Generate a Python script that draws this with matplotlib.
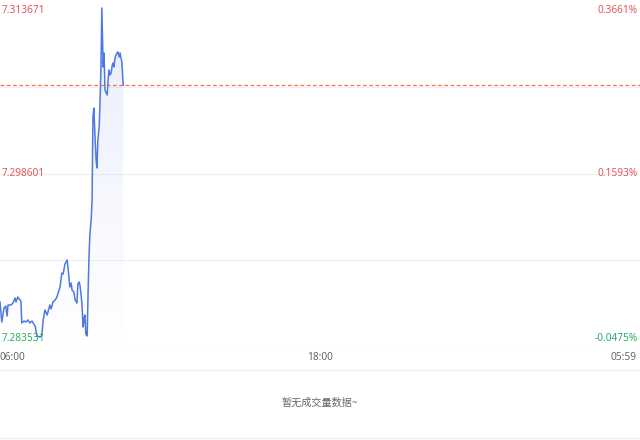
import numpy as np
import matplotlib
matplotlib.use('Agg')
from matplotlib import pyplot as plt
from matplotlib.patches import Polygon

plt.rcParams['font.family'] = ['Noto Sans', 'Noto Sans CJK SC', 'DejaVu Sans']

# minutes since 06:00 and price
minutes = [0, 4, 9, 13, 16, 18, 25, 29, 34, 36, 40, 45, 47, 49, 54, 58, 63, 67,
           72, 76, 79, 83, 90, 94, 97, 101, 106, 112, 115, 119, 124, 128, 135,
           139, 142, 146, 151, 153, 157, 160, 162, 166, 169, 173, 175, 178, 180,
           184, 187, 189, 191, 193, 196, 198, 200, 202, 205, 207, 209, 211, 214,
           216, 218, 220, 223, 225, 227, 229, 232, 234, 236, 238, 241, 243, 245,
           247, 250, 252, 254, 256, 259, 261, 263, 265, 268, 270, 272, 274, 277]
prices = [7.287440, 7.285702, 7.286918, 7.287092, 7.286224, 7.287179, 7.287179,
          7.287353, 7.287787, 7.287440, 7.287874, 7.287613, 7.287526, 7.285616,
          7.285789, 7.285702, 7.285876, 7.285616, 7.285789, 7.285529, 7.285355,
          7.284486, 7.284400, 7.284486, 7.285876, 7.286745, 7.286310, 7.287179,
          7.286832, 7.287440, 7.287613, 7.287874, 7.288742, 7.289958, 7.289872,
          7.290740, 7.291088, 7.290393, 7.288742, 7.289090, 7.288482, 7.288308,
          7.287613, 7.287353, 7.289003, 7.289177, 7.288829, 7.287440, 7.285268,
          7.286050, 7.286310, 7.284660, 7.284486, 7.288221, 7.291261, 7.293259,
          7.294562, 7.296299, 7.303508, 7.304290, 7.301511, 7.299774, 7.299079,
          7.301511, 7.302640, 7.304985, 7.307765, 7.312976, 7.307851, 7.309067,
          7.305854, 7.305680, 7.305419, 7.306722, 7.307591, 7.307157, 7.307330,
          7.307938, 7.308199, 7.307851, 7.308720, 7.308894, 7.309067, 7.309154,
          7.308720, 7.309067, 7.308633, 7.308286, 7.306288]

y_top = 7.313671
y_bottom = 7.283531
y_mid = 7.298601
ref_line = 7.306288
pct_labels = ['0.3661%', '0.1593%', '-0.0475%']
time_labels = ['06:00', '18:00', '05:59']
total_minutes = 1439
no_volume_text = '暂无成交量数据~'

RED = '#e0575c'
GREEN = '#2ead6b'
GREY = '#666666'
GRID = '#f0f0f0'
LINE = '#4f78e6'

fig = plt.figure(figsize=(6.4, 4.4), dpi=100)
ax = fig.add_axes([0, 1 - 347 / 440, 1, 347 / 440])
ax.axis('off')

for v in np.linspace(y_bottom, y_top, 5)[:-1]:
    ax.axhline(v, color=GRID, lw=0.8, zorder=0)

x = np.array(minutes)
y = np.array(prices)

# gradient fill under the line, strongest at the top
verts = np.vstack([[x[0], y_bottom], np.column_stack([x, y]), [x[-1], y_bottom]])
poly = Polygon(verts, closed=True, facecolor='none', edgecolor='none')
ax.add_patch(poly)
grad = np.zeros((100, 1, 4))
grad[..., 0], grad[..., 1], grad[..., 2] = 0.31, 0.47, 0.90
grad[:, 0, 3] = np.linspace(0.13, 0.0, 100)
im = ax.imshow(grad, aspect='auto', extent=[x.min(), x.max(), y_bottom, y_top],
               origin='upper', zorder=1)
im.set_clip_path(poly)
ax.set_xlim(0, total_minutes)
ax.set_ylim(y_bottom, y_top)

ax.plot(x, y, color=LINE, lw=1.1, zorder=3)
ax.axhline(ref_line, color='#f0744c', lw=0.9, ls=(0, (3, 2)), zorder=2)

fs = 7.3
ax.text(0.002, 0.985, f'{y_top:.6f}', transform=ax.transAxes, color=RED,
        fontsize=fs, ha='left', va='top')
ax.text(0.002, 0.5, f'{y_mid:.6f}', transform=ax.transAxes, color=RED,
        fontsize=fs, ha='left', va='center')
ax.text(0.002, 0.008, f'{y_bottom:.6f}', transform=ax.transAxes, color=GREEN,
        fontsize=fs, ha='left', va='bottom')
ax.text(0.997, 0.985, pct_labels[0], transform=ax.transAxes, color=RED,
        fontsize=fs, ha='right', va='top')
ax.text(0.997, 0.5, pct_labels[1], transform=ax.transAxes, color=RED,
        fontsize=fs, ha='right', va='center')
ax.text(0.997, 0.008, pct_labels[2], transform=ax.transAxes, color=GREEN,
        fontsize=fs, ha='right', va='bottom')

# time axis labels
ty = 1 - 357 / 440
fig.text(0.0, ty, time_labels[0], color=GREY, fontsize=fs, ha='left', va='center')
fig.text(0.5, ty, time_labels[1], color=GREY, fontsize=fs, ha='center', va='center')
fig.text(0.995, ty, time_labels[2], color=GREY, fontsize=fs, ha='right', va='center')

# volume panel
for py in (370, 438):
    fig.add_artist(plt.Line2D([0, 1], [1 - py / 440] * 2, color=GRID, lw=0.8))
fig.text(0.5, 1 - 403 / 440, no_volume_text, color=GREY, fontsize=fs,
         ha='center', va='center', family=['Noto Sans CJK SC', 'DejaVu Sans'])

fig.savefig('out.png', dpi=100)
